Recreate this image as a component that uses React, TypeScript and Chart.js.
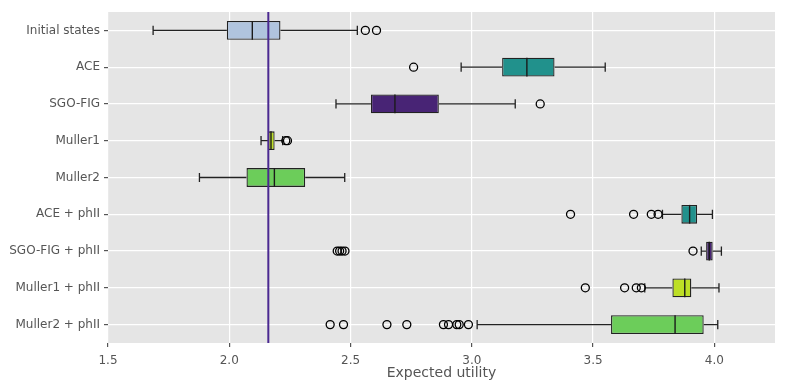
import React, { useEffect, useRef } from "react";
import { Chart, registerables } from "chart.js";

Chart.register(...registerables);

const categories = [
  "Initial states",
  "ACE",
  "SGO-FIG",
  "Muller1",
  "Muller2",
  "ACE + phII",
  "SGO-FIG + phII",
  "Muller1 + phII",
  "Muller2 + phII",
];

const whiskerLow = [1.686, 2.956, 2.44, 2.131, 1.877, 3.786, 3.946, 3.713, 3.022];
const q1 = [1.99, 3.125, 2.584, 2.16, 2.071, 3.864, 3.966, 3.827, 3.574];
const median = [2.095, 3.227, 2.683, 2.172, 2.186, 3.898, 3.979, 3.878, 3.838];
const q3 = [2.211, 3.341, 2.864, 2.187, 2.313, 3.929, 3.993, 3.905, 3.956];
const whiskerHigh = [2.528, 3.55, 3.179, 2.22, 2.476, 3.992, 4.029, 4.019, 4.014];

const outliers: number[][] = [
  [2.561, 2.607],
  [2.76],
  [3.282],
  [2.233, 2.24],
  [],
  [3.407, 3.667, 3.74, 3.768],
  [2.445, 2.455, 2.465, 2.477, 3.912],
  [3.468, 3.63, 3.678, 3.699],
  [2.416, 2.471, 2.65, 2.732, 2.883, 2.904, 2.938, 2.948, 2.986],
];

const boxColors = [
  "#b0c4de",
  "#21918c",
  "#482475",
  "#bddf26",
  "#6ccd5a",
  "#21918c",
  "#482475",
  "#bddf26",
  "#6ccd5a",
];

const referenceValue = 2.161;
const xTicks = [1.5, 2.0, 2.5, 3.0, 3.5, 4.0];

export default function App() {
  const canvasRef = useRef<HTMLCanvasElement | null>(null);

  useEffect(() => {
    if (!canvasRef.current) return;

    const outlierPoints: { x: number; y: string }[] = [];
    outliers.forEach((arr, i) => arr.forEach((v) => outlierPoints.push({ x: v, y: categories[i] })));

    const bgPlugin = {
      id: "bg",
      beforeDraw(chart: any) {
        const { ctx, chartArea } = chart;
        ctx.save();
        ctx.fillStyle = "#e5e5e5";
        ctx.fillRect(chartArea.left, chartArea.top, chartArea.right - chartArea.left, chartArea.bottom - chartArea.top);
        ctx.restore();
      },
    };

    const boxPlugin = {
      id: "boxExtras",
      beforeDatasetsDraw(chart: any) {
        const { ctx } = chart;
        const xs = chart.scales.x;
        const ys = chart.scales.y;
        ctx.save();
        ctx.strokeStyle = "#222222";
        ctx.lineWidth = 1.3;
        categories.forEach((_, i) => {
          const y = ys.getPixelForValue(i);
          const cap = 4.6;
          const xl = xs.getPixelForValue(whiskerLow[i]);
          const x1 = xs.getPixelForValue(q1[i]);
          const x3 = xs.getPixelForValue(q3[i]);
          const xh = xs.getPixelForValue(whiskerHigh[i]);
          ctx.beginPath();
          ctx.moveTo(xl, y);
          ctx.lineTo(x1, y);
          ctx.moveTo(x3, y);
          ctx.lineTo(xh, y);
          ctx.moveTo(xl, y - cap);
          ctx.lineTo(xl, y + cap);
          ctx.moveTo(xh, y - cap);
          ctx.lineTo(xh, y + cap);
          ctx.stroke();
        });
        ctx.restore();
      },
      afterDatasetsDraw(chart: any) {
        const { ctx, chartArea } = chart;
        const xs = chart.scales.x;
        const ys = chart.scales.y;
        ctx.save();
        ctx.strokeStyle = "#1a1a1a";
        ctx.lineWidth = 1.4;
        const meta = chart.getDatasetMeta(0);
        categories.forEach((_, i) => {
          const el = meta.data[i];
          const h = el ? el.height : 18;
          const y = ys.getPixelForValue(i);
          const xm = xs.getPixelForValue(median[i]);
          ctx.beginPath();
          ctx.moveTo(xm, y - h / 2);
          ctx.lineTo(xm, y + h / 2);
          ctx.stroke();
        });
        const xr = xs.getPixelForValue(referenceValue);
        ctx.strokeStyle = "#4b2991";
        ctx.lineWidth = 2;
        ctx.beginPath();
        ctx.moveTo(xr, chartArea.top);
        ctx.lineTo(xr, chartArea.bottom);
        ctx.stroke();
        ctx.restore();
      },
    };

    const chart = new Chart(canvasRef.current, {
      type: "bar",
      data: {
        labels: categories,
        datasets: [
          {
            type: "bar",
            indexAxis: "y",
            data: categories.map((_, i) => [q1[i], q3[i]]),
            backgroundColor: boxColors,
            borderColor: "#222222",
            borderWidth: 1.3,
            borderSkipped: false,
            categoryPercentage: 1,
            barPercentage: 0.51,
            xAxisID: "x",
            yAxisID: "y",
          } as any,
          {
            type: "line",
            data: outlierPoints as any,
            showLine: false,
            pointStyle: "circle",
            pointRadius: 4,
            pointBorderWidth: 1.3,
            pointBorderColor: "#000000",
            pointBackgroundColor: "rgba(0,0,0,0)",
            xAxisID: "x",
            yAxisID: "y",
          } as any,
        ],
      },
      options: {
        animation: false,
        responsive: false,
        maintainAspectRatio: false,
        layout: { padding: { top: 12, right: 12, left: 0, bottom: 8 } },
        plugins: { legend: { display: false }, tooltip: { enabled: false } },
        scales: {
          x: {
            type: "linear",
            position: "bottom",
            offset: false,
            min: 1.5,
            max: 4.25,
            afterBuildTicks: (scale: any) => {
              scale.ticks = xTicks.map((v) => ({ value: v }));
            },
            afterFit: (scale: any) => {
              scale.height = 39;
            },
            ticks: {
              color: "#555555",
              font: { family: "DejaVu Sans", size: 12 },
              padding: 7,
              callback: (v: any) => Number(v).toFixed(1),
            },
            grid: {
              color: "#ffffff",
              lineWidth: 1.2,
              offset: false,
              drawTicks: true,
              tickLength: 4,
              tickColor: "#555555",
            },
            border: { display: false },
            title: {
              display: true,
              text: "Expected utility",
              color: "#555555",
              font: { family: "DejaVu Sans", size: 14 },
              padding: { top: 0, bottom: 0 },
            },
          },
          y: {
            type: "category",
            labels: categories,
            offset: true,
            afterFit: (scale: any) => {
              scale.width = 108;
            },
            ticks: {
              color: "#555555",
              font: { family: "DejaVu Sans", size: 12 },
              padding: 4,
            },
            grid: {
              color: "#ffffff",
              lineWidth: 1.2,
              offset: false,
              drawTicks: true,
              tickLength: 4,
              tickColor: "#555555",
            },
            border: { display: false },
          },
        },
      } as any,
      plugins: [bgPlugin, boxPlugin],
    });

    return () => chart.destroy();
  }, []);

  return (
    <div style={{ position: "fixed", left: 0, top: 0, width: 787, height: 390, background: "#ffffff" }}>
      <canvas ref={canvasRef} width={787} height={390} style={{ width: 787, height: 390, display: "block" }} />
    </div>
  );
}
